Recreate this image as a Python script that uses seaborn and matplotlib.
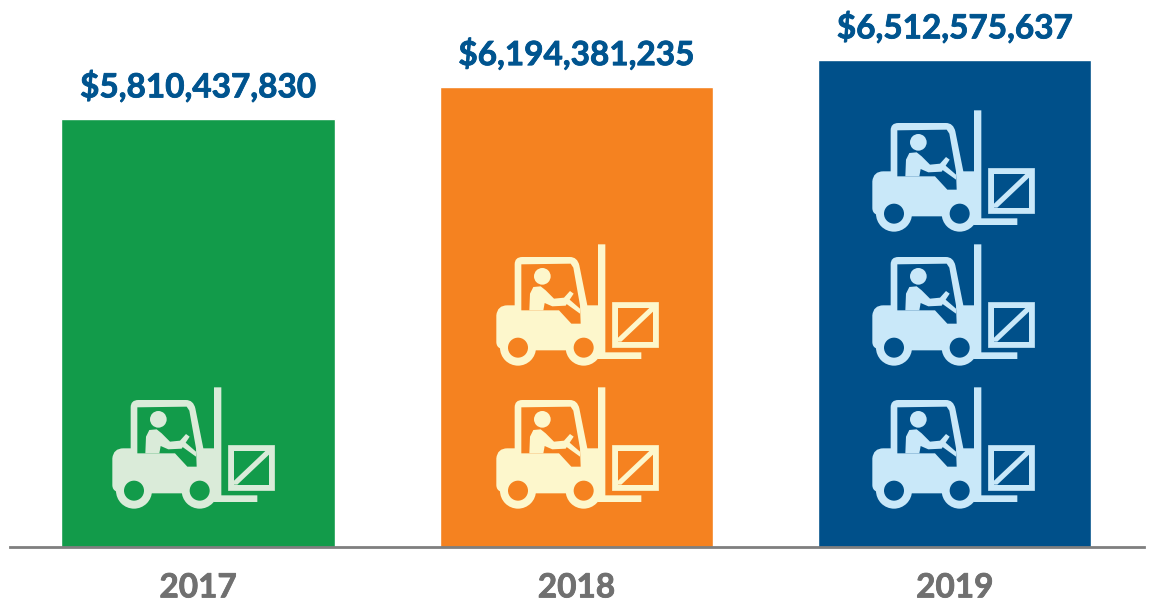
import matplotlib
matplotlib.use("Agg")
import matplotlib.pyplot as plt
import matplotlib.patheffects as pe
import seaborn as sns
import pandas as pd
from matplotlib.path import Path
from matplotlib.patches import PathPatch, Circle, Polygon
from matplotlib.transforms import Affine2D

years = ["2017", "2018", "2019"]
spending = [5810437830, 6194381235, 6512575637]
icon_counts = [1, 2, 3]
bar_colors = ["#129B4A", "#F58220", "#00508A"]
icon_colors = ["#DAEBD9", "#FDF7CC", "#C9E8F9"]
label_color = "#00548F"
tick_color = "#707070"
axis_color = "#7F7F7F"
W, H = 1152, 603

sns.set_theme(style="white")
plt.rcParams["font.family"] = ["Lato", "DejaVu Sans"]

df = pd.DataFrame({"year": years, "spending": spending})
fig = plt.figure(figsize=(W / 100, H / 100), dpi=100)
ax = fig.add_axes([10 / W, (H - 547) / H, 1134 / W, 547 / H])
sns.barplot(data=df, x="year", y="spending", hue="year", palette=bar_colors,
            width=0.722, saturation=1, legend=False, ax=ax)
ax.set_xlim(-0.497, 2.5)
# bars are a pictogram, baseline isn't at zero in the original
ax.set_ylim(718e6, 718e6 + 547 * 11.9e6)
ax.set_xlabel("")
ax.set_ylabel("")
ax.set_yticks([])
ax.tick_params(axis="x", length=0, pad=19, labelsize=24, labelcolor=tick_color)
for t in ax.get_xticklabels():
    t.set_fontweight("bold")
    t.set_path_effects([pe.withStroke(linewidth=0.6, foreground=tick_color)])
sns.despine(ax=ax, left=True)
ax.spines["bottom"].set_color(axis_color)
ax.spines["bottom"].set_linewidth(2)

for c, v in zip(ax.containers, spending):
    lbls = ax.bar_label(c, labels=[f"${v:,}"], padding=12, fontsize=24, fontweight="bold",
                        color=label_color)
    for t in lbls:
        t.set_path_effects([pe.withStroke(linewidth=0.6, foreground=label_color)])

M, L, Q, Z = Path.MOVETO, Path.LINETO, Path.CURVE3, Path.CLOSEPOLY
# forklift outline, in 3x pixels relative to the icon corner
body = [(M, (67, 265)), (Q, (70, 235)), (Q, (100, 235)), (L, (122, 235)), (L, (122, 112)),
        (Q, (122, 90)), (Q, (145, 90)), (L, (288, 90)), (Q, (310, 90)), (Q, (316, 115)),
        (L, (340, 235)), (L, (372, 235)), (L, (372, 52)), (L, (394, 52)), (L, (394, 376)),
        (L, (502, 376)), (L, (502, 396)), (L, (372, 396)), (L, (330, 370)), (L, (132, 370)),
        (L, (80, 365)), (Q, (67, 360)), (Q, (67, 345)), (L, (67, 265)), (Z, (67, 265))]
window = [(142, 112), (290, 110), (298, 122), (318, 235), (320, 290), (292, 290),
          (255, 250), (142, 250)]
torso = [(166, 250), (168, 200), (178, 180), (200, 178), (215, 190), (240, 215),
         (270, 212), (288, 192), (299, 200), (275, 236), (235, 238), (212, 228), (208, 250)]
column = [(280, 212), (318, 245), (318, 260), (268, 224)]
box_inner = [(431, 243), (537, 243), (537, 344), (431, 344)]
diagonal = [(526, 243), (537, 243), (537, 254), (442, 344), (431, 344), (431, 333)]

anchors_x = [90, 474, 850]
anchors_y = [370, 227, 93]


def draw_icon(ox, oy, fg, bg):
    tr = (Affine2D().scale(1 / 3, -1 / 3).translate(ox, H - oy).scale(1 / W, 1 / H)
          + fig.transFigure)
    codes, verts = zip(*body)
    parts = [PathPatch(Path(verts, codes), fc=fg, ec="none")]
    parts.append(Polygon(window, fc=bg, ec="none"))
    parts.append(Polygon(torso, fc=fg, ec="none"))
    parts.append(Polygon(column, fc=fg, ec="none"))
    parts.append(Circle((205, 148), 25, fc=fg, ec="none"))
    parts.append(Circle((132, 362), 54, fc=fg, ec="none"))
    parts.append(Circle((329, 362), 54, fc=fg, ec="none"))
    parts.append(Circle((132, 362), 30, fc=bg, ec="none"))
    parts.append(Circle((329, 362), 30, fc=bg, ec="none"))
    parts.append(Polygon([(415, 226), (553, 226), (553, 360), (415, 360)], fc=fg, ec=fg,
                         lw=0.5, joinstyle="round"))
    parts.append(Polygon(box_inner, fc=bg, ec="none"))
    parts.append(Polygon(diagonal, fc=fg, ec="none"))
    for p in parts:
        p.set_transform(tr)
        p.set_clip_on(False)
        p.set_zorder(5)
        ax.add_patch(p)


for i, n in enumerate(icon_counts):
    for k in range(n):
        draw_icon(anchors_x[i], anchors_y[k], icon_colors[i], bar_colors[i])

fig.savefig("out.png", dpi=100)
